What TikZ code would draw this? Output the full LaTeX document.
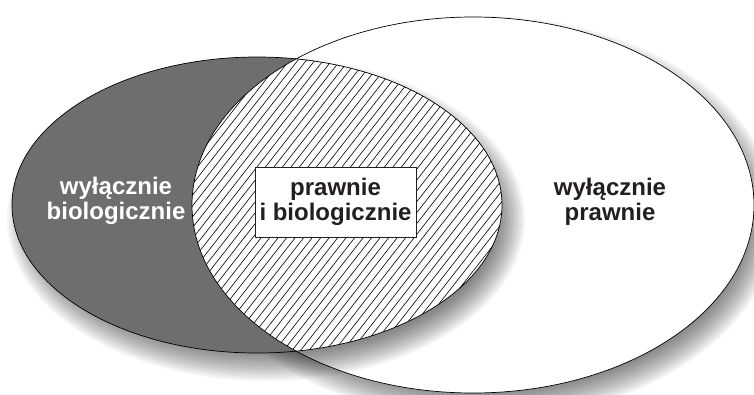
\documentclass[tikz,border=0pt]{standalone}
\usepackage{fontspec}
\setmainfont{Liberation Sans}
\definecolor{darkfill}{RGB}{110,110,110}
\definecolor{inkblack}{RGB}{35,31,32}
\begin{document}
\begin{tikzpicture}[x=1pt,y=-1pt,
  lbl/.style={font=\bfseries\fontsize{24}{25}\selectfont, align=center, text=inkblack},
  outline/.style={draw=black, line width=0.7pt},
  hatchline/.style={draw=black, line width=0.6pt}]
\useasboundingbox (0,0) rectangle (754,394);
\def\LE{(257,205) ellipse [x radius=245pt, y radius=148pt]}
\def\RE{(473,205) ellipse [x radius=281pt, y radius=188pt]}
% shadow of right ellipse
\foreach \i in {0,...,14}{
  \fill[black, opacity=0.04] (482,218) ellipse [x radius={281pt+14pt-2pt*\i}, y radius={188pt+14pt-2pt*\i}];
}
\fill[white] \RE;
% shadow of left ellipse
\foreach \i in {0,...,14}{
  \fill[black, opacity=0.04] (266,219) ellipse [x radius={245pt+14pt-2pt*\i}, y radius={148pt+14pt-2pt*\i}];
}
\fill[darkfill] \LE;
% hatched intersection
\begin{scope}
  \clip \LE;
  \clip \RE;
  \fill[white] (0,0) rectangle (754,394);
  \foreach \k in {0,...,120}{
    \draw[hatchline] ({-320+8.5*\k},394) -- ++(308,-394);
  }
\end{scope}
\draw[outline] \RE;
\draw[outline] \LE;
\node[draw=inkblack, fill=white, line width=0.7pt, minimum width=161pt, minimum height=70pt, inner sep=0pt] (box) at (335.5,202) {};
\node[lbl] (both) at (box.center) {prawnie\\i biologicznie};
\node[lbl, text=white] (bio) at (116,201) {wyłącznie\\biologicznie};
\node[lbl] (law) at (610,202) {wyłącznie\\prawnie};
\end{tikzpicture}
\end{document}
